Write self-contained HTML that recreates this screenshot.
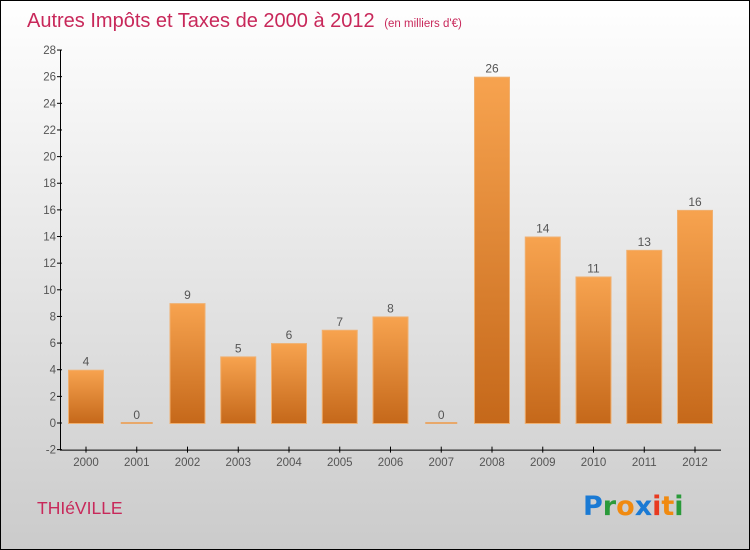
<!DOCTYPE html>
<html><head><meta charset="utf-8"><style>
body{margin:0;}
svg{display:block;font-family:"Liberation Sans","DejaVu Sans",sans-serif;}
</style></head><body>
<svg id="chart" width="750" height="550" viewBox="0 0 750 550">
<defs>
<linearGradient id="bg" x1="0" y1="0" x2="0" y2="1"><stop offset="0" stop-color="#ffffff"/><stop offset="1" stop-color="#cbcbcb"/></linearGradient>
<linearGradient id="barg" x1="0" y1="0" x2="0" y2="1"><stop offset="0" stop-color="#f7a34f"/><stop offset="1" stop-color="#c5681a"/></linearGradient>
</defs>
<rect x="0.5" y="0.5" width="749" height="549" fill="url(#bg)" stroke="#000"/>
<text x="27" y="27" font-size="20" fill="#c8285a" font-weight="300">Autres Impôts et Taxes de 2000 à 2012 <tspan font-size="11.5" dx="4">(en milliers d'€)</tspan></text>
<text x="37" y="514" font-size="17.5" fill="#c8285a">THIéVILLE</text>
<g font-size="27" font-family="'DejaVu Sans',sans-serif" font-weight="bold">
<text x="583" y="515"><tspan fill="#1a7ad4">P</tspan><tspan fill="#2a9a3a">r</tspan><tspan fill="#f08a10">o</tspan><tspan fill="#1a7ad4">x</tspan><tspan fill="#e83a20">i</tspan><tspan fill="#f08a10">t</tspan><tspan fill="#2a9a3a">i</tspan></text>
</g>
<g id="axes"></g>
<g id="bars"></g>
</svg>
<script>
const years=["2000","2001","2002","2003","2004","2005","2006","2007","2008","2009","2010","2011","2012"];
const values=[4,0,9,5,6,7,8,0,26,14,11,13,16];
const yTicks=[-2,0,2,4,6,8,10,12,14,16,18,20,22,24,26,28];
const NS="http://www.w3.org/2000/svg";
const y0=423, unit=13.32, x0=86, step=50.75, bw=36;
function ys(v){return y0-v*unit;}
function xs(i){return x0+i*step;}
function mk(t,a,p){const e=document.createElementNS(NS,t);for(const k in a)e.setAttribute(k,a[k]);p.appendChild(e);return e;}
const ax=document.getElementById('axes'), bars=document.getElementById('bars');
const yl=mk('line',{x1:60.5,y1:ys(28),x2:60.5,y2:ys(-2),stroke:'#000','stroke-width':1},ax);


const xl=mk('line',{x1:60,y1:ys(-2)+0.5,x2:721,y2:ys(-2)+0.5,stroke:'#000','stroke-width':1},ax);


yTicks.forEach(v=>{
  mk('line',{x1:57,y1:ys(v),x2:62,y2:ys(v),stroke:'#000'},ax);
  const t=mk('text',{x:56,y:ys(v)+4,'text-anchor':'end','font-size':11.5,fill:'#555'},ax);
  t.textContent=v;
  
  
});
years.forEach((yr,i)=>{
  const cx=xs(i);
  mk('line',{x1:cx,y1:ys(-2)-3,x2:cx,y2:ys(-2)+3,stroke:'#000'},ax);
  const t=mk('text',{x:cx,y:466,'text-anchor':'middle','font-size':11.5,fill:'#555'},ax);
  t.textContent=yr;
  
  
  const v=values[i];
  let r;
  if(v===0){
    r=mk('rect',{x:cx-bw/2+2,y:y0-1,width:bw-4,height:2,fill:'#e8a86a'},bars);
  } else {
    r=mk('rect',{x:cx-bw/2+0.5,y:ys(v)+0.5,width:bw-1,height:v*unit,fill:'url(#barg)',stroke:'#f0b070','stroke-width':1},bars);
  }
  
  
  const lb=mk('text',{x:cx,y:ys(v)-4,'text-anchor':'middle','font-size':12,fill:'#555'},bars);
  lb.textContent=v;
  
  
});
</script>
</body></html>
